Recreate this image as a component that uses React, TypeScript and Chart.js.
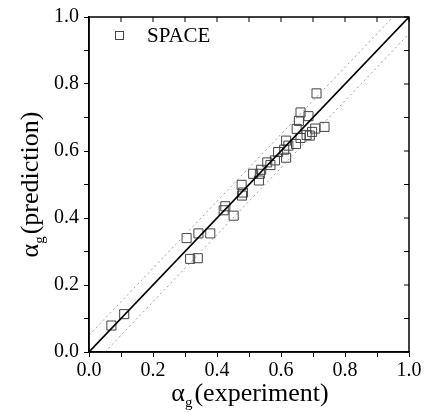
import React, { useEffect, useRef } from "react";
import { Chart, registerables } from "chart.js";

Chart.register(...registerables);

const expX = [0.07, 0.11, 0.305, 0.342, 0.379, 0.316, 0.34, 0.421, 0.426, 0.452, 0.478, 0.481, 0.477, 0.513, 0.531, 0.534, 0.538, 0.557, 0.567, 0.581, 0.591, 0.616, 0.61, 0.623, 0.616, 0.647, 0.661, 0.68, 0.69, 0.697, 0.707, 0.736, 0.649, 0.656, 0.686, 0.661, 0.711];
const predY = [0.079, 0.113, 0.34, 0.354, 0.354, 0.278, 0.28, 0.423, 0.435, 0.407, 0.467, 0.476, 0.499, 0.532, 0.512, 0.532, 0.544, 0.566, 0.558, 0.572, 0.597, 0.58, 0.604, 0.616, 0.631, 0.621, 0.639, 0.648, 0.646, 0.657, 0.667, 0.672, 0.666, 0.69, 0.704, 0.715, 0.772];
const idealX = [0, 1];
const idealY = [0, 1];
const upperX = [0, 0.95];
const upperY = [0.05, 1];
const lowerX = [0.05, 1];
const lowerY = [0, 0.95];
const seriesName = "SPACE";
const xTitleMain = "(experiment)";
const yTitleMain = "(prediction)";

const FONT = '"Liberation Serif", "Times New Roman", serif';

const pts = (xs: number[], ys: number[]) => xs.map((x, i) => ({ x, y: ys[i] }));

const decorPlugin = {
  id: "decor",
  afterDraw(chart: any) {
    const { ctx, chartArea: a, scales } = chart;
    const xs = scales.x;
    const ys = scales.y;
    ctx.save();
    ctx.strokeStyle = "#000";
    ctx.lineWidth = 1.5;
    ctx.strokeRect(a.left, a.top, a.right - a.left, a.bottom - a.top);
    ctx.lineWidth = 1;
    for (let i = 0; i <= 10; i++) {
      const v = i / 10;
      const px = xs.getPixelForValue(v);
      ctx.beginPath();
      ctx.moveTo(px, a.top);
      ctx.lineTo(px, a.top + 5);
      ctx.stroke();
      const py = ys.getPixelForValue(v);
      ctx.beginPath();
      ctx.moveTo(a.right, py);
      ctx.lineTo(a.right - 5, py);
      ctx.stroke();
    }
    // legend
    ctx.strokeStyle = "#444";
    ctx.lineWidth = 1;
    ctx.strokeRect(115.5, 31.5, 8, 8);
    ctx.fillStyle = "#000";
    ctx.font = `21px ${FONT}`;
    ctx.textBaseline = "middle";
    ctx.textAlign = "left";
    ctx.fillText(seriesName, 147, 36);

    const big = `26px ${FONT}`;
    const small = `15px ${FONT}`;
    ctx.textBaseline = "alphabetic";
    ctx.font = big;
    const wA = ctx.measureText("\u03b1").width;
    const wMain = ctx.measureText(xTitleMain).width;
    ctx.font = small;
    const wG = ctx.measureText("g").width;
    let total = wA + wG + 2 + wMain;
    const cx = (a.left + a.right) / 2 + 1;
    let sx = cx - total / 2;
    const by = 401;
    ctx.font = big;
    ctx.fillText("\u03b1", sx, by);
    ctx.font = small;
    ctx.fillText("g", sx + wA, by + 6);
    ctx.font = big;
    ctx.fillText(xTitleMain, sx + wA + wG + 2, by);

    ctx.save();
    ctx.translate(38, (a.top + a.bottom) / 2);
    ctx.rotate(-Math.PI / 2);
    ctx.font = big;
    const wMainY = ctx.measureText(yTitleMain).width;
    total = wA + wG + 2 + wMainY;
    sx = -total / 2;
    ctx.fillText("\u03b1", sx, 0);
    ctx.font = small;
    ctx.fillText("g", sx + wA, 6);
    ctx.font = big;
    ctx.fillText(yTitleMain, sx + wA + wG + 2, 0);
    ctx.restore();
    ctx.restore();
  },
};

const tickCb = (v: any) => {
  const n = Math.round(Number(v) * 10);
  return n % 2 === 0 ? (n / 10).toFixed(1) : "";
};

export default function App() {
  const ref = useRef<HTMLCanvasElement>(null);
  useEffect(() => {
    if (!ref.current) return;
    const chart = new Chart(ref.current, {
      type: "scatter",
      data: {
        datasets: [
          {
            type: "line",
            label: "ideal",
            data: pts(idealX, idealY),
            borderColor: "#000",
            borderWidth: 1.6,
            pointRadius: 0,
            fill: false,
          },
          {
            type: "line",
            label: "upper",
            data: pts(upperX, upperY),
            borderColor: "#888",
            borderWidth: 0.8,
            borderDash: [2, 3],
            pointRadius: 0,
            fill: false,
          },
          {
            type: "line",
            label: "lower",
            data: pts(lowerX, lowerY),
            borderColor: "#888",
            borderWidth: 0.8,
            borderDash: [2, 3],
            pointRadius: 0,
            fill: false,
          },
          {
            label: seriesName,
            data: pts(expX, predY),
            pointStyle: "rect",
            pointRadius: 6.4,
            borderColor: "#444",
            borderWidth: 1,
            backgroundColor: "rgba(0,0,0,0)",
          },
        ],
      } as any,
      options: {
        responsive: false,
        animation: false,
        layout: { padding: { left: 0, top: 15, right: 18, bottom: 0 } },
        plugins: { legend: { display: false }, tooltip: { enabled: false } },
        scales: {
          x: {
            type: "linear",
            min: 0,
            max: 1,
            border: { display: true, color: "#000", width: 1.5 },
            grid: { drawOnChartArea: false, drawTicks: true, tickLength: 5, color: "#000" },
            ticks: {
              stepSize: 0.1,
              autoSkip: false,
              maxRotation: 0,
              padding: 2,
              color: "#000",
              font: { family: FONT, size: 20 },
              callback: tickCb,
            },
            afterFit(s: any) {
              s.height = 60;
            },
          },
          y: {
            type: "linear",
            min: 0,
            max: 1,
            border: { display: true, color: "#000", width: 1.5 },
            grid: { drawOnChartArea: false, drawTicks: true, tickLength: 5, color: "#000" },
            ticks: {
              stepSize: 0.1,
              autoSkip: false,
              padding: 5,
              color: "#000",
              font: { family: FONT, size: 20 },
              callback: tickCb,
            },
            afterFit(s: any) {
              s.width = 89;
            },
          },
        },
      } as any,
      plugins: [decorPlugin],
    });
    return () => chart.destroy();
  }, []);
  return (
    <div style={{ position: "fixed", left: 0, top: 0, width: 427, height: 412, background: "#fff" }}>
      <canvas ref={ref} width={427} height={412} />
    </div>
  );
}
